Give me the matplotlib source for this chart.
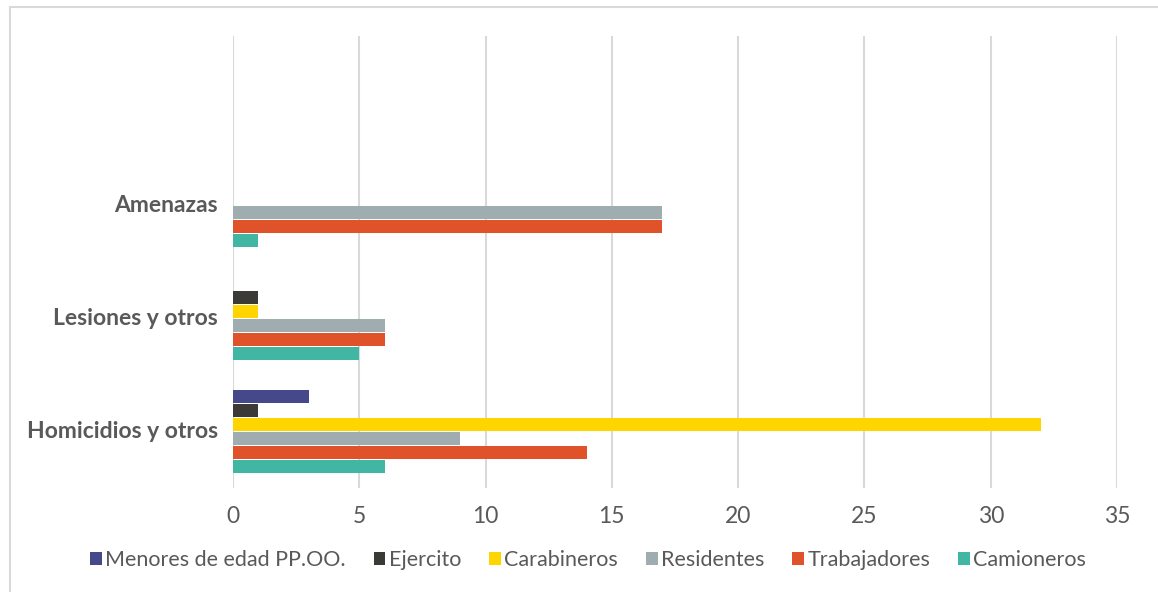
import matplotlib.pyplot as plt
import matplotlib.patches as mpatches
import numpy as np

plt.rcParams['font.family'] = 'Lato'

categories = ['Homicidios y otros', 'Lesiones y otros', 'Amenazas']
series = ['Menores de edad PP.OO.', 'Ejercito', 'Carabineros',
          'Residentes', 'Trabajadores', 'Camioneros']
menores = [3, 0, 0]
ejercito = [1, 1, 0]
carabineros = [32, 1, 0]
residentes = [9, 6, 17]
trabajadores = [14, 6, 17]
camioneros = [6, 5, 1]
colors = ['#45488a', '#3b3a36', '#ffd500', '#9facb0', '#e0532a', '#41b6a2']

values = [menores, ejercito, carabineros, residentes, trabajadores, camioneros]
xticks = [0, 5, 10, 15, 20, 25, 30, 35]

fig = plt.figure(figsize=(11.58, 5.92), dpi=100)
ax = fig.add_axes([233 / 1158, 1 - 488 / 592, (1117 - 233) / 1158, (488 - 36) / 592])

h = 14 / 114
y = np.arange(len(categories))
handles = []
for i, (name, vals, col) in enumerate(zip(series, values, colors)):
    offset = (2.5 - i) * h
    b = ax.barh(y + offset, vals, height=h * 0.96, color=col, linewidth=0,
                label=name, zorder=3)
    handles.append(b)

ax.set_xlim(0, 35)
ax.set_ylim(-0.5, 3.5)
ax.set_xticks(xticks)
ax.set_xticklabels([str(t) for t in xticks], fontsize=16.5, color='#595959')
ax.set_yticks(y + 0.02)
ax.set_yticklabels(categories, fontsize=16.5, fontweight='bold', color='#595959')
ax.tick_params(axis='x', length=0, pad=13)
ax.tick_params(axis='y', length=0, pad=11)
ax.grid(axis='x', color='#d9d9d9', linewidth=1.5, zorder=0)
for s in ax.spines.values():
    s.set_visible(False)

fig.legend(handles=handles, loc='center', bbox_to_anchor=(588 / 1158, 1 - 560 / 592),
           ncol=6, frameon=False, fontsize=15.5, handlelength=0.55, handleheight=0.55,
           handletextpad=0.15, columnspacing=1.3, labelcolor='#595959')

# outer chart frame
fig.patches.append(mpatches.Rectangle((9.5 / 1158, -0.1), 1.2, 1.1 - 6.5 / 592,
                                      transform=fig.transFigure, fill=False,
                                      edgecolor='#d9d9d9', linewidth=1.5))

fig.savefig('out.png', dpi=100, facecolor='white')
